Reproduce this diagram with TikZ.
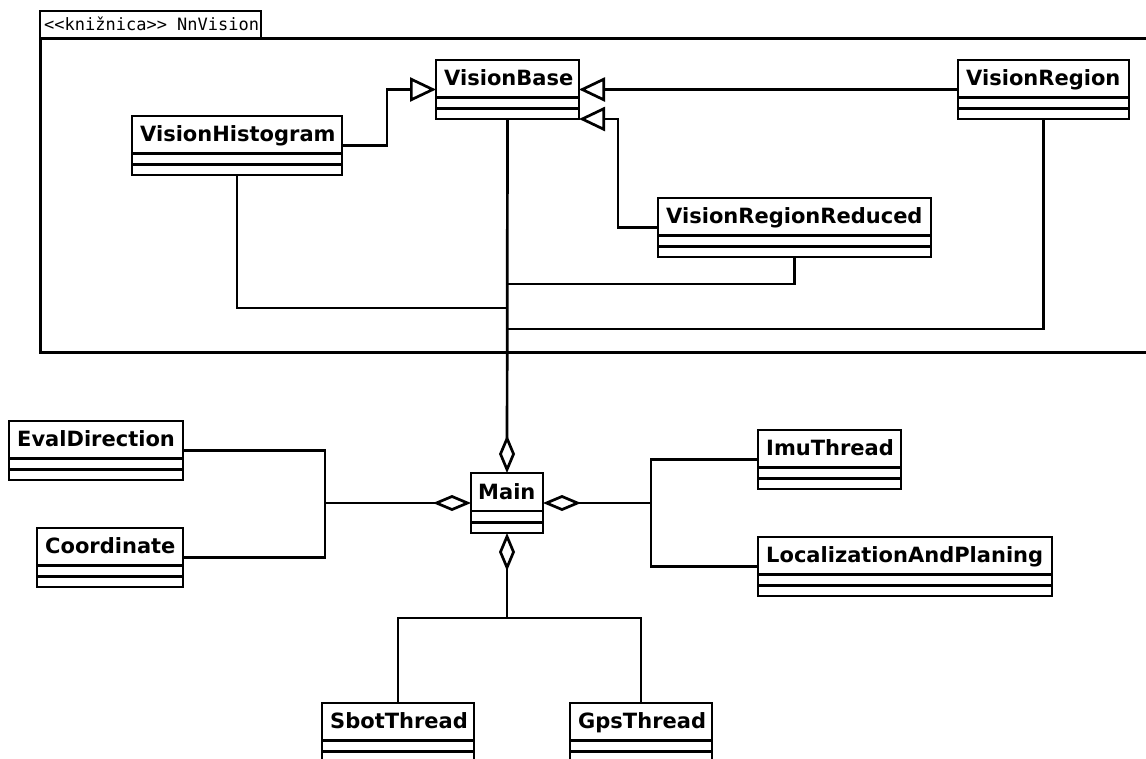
\documentclass[tikz,border=0pt]{standalone}
\usepackage{fontspec}
\newfontfamily\classfont{DejaVu Sans}
\setmonofont{DejaVu Sans Mono}
\usetikzlibrary{arrows.meta,calc}

\tikzset{
  classbox/.style={draw, line width=2.9pt, minimum height=59pt, inner sep=0pt, outer sep=0pt, fill=white},
  boxline/.style={line width=2.8pt},
  classname/.style={anchor=base west, inner sep=0pt, font=\classfont\bfseries\fontsize{21}{25}\selectfont},
  conn/.style={line width=2.7pt},
  gen/.style={conn, -{Triangle[open, length=26pt, width=24pt, line width=2.7pt]}},
  agg/.style={conn, -{Diamond[open, length=38pt, width=16pt, line width=2.7pt]}},
  framebox/.style={line width=3pt},
  tabtext/.style={anchor=base west, inner sep=0pt, font=\ttfamily\fontsize{17}{20}\selectfont},
}

% class symbol: name, left x, top y, width, title
\newcommand\umlclass[5]{%
  \node[classbox, minimum width=#4pt, anchor=north west] (#1) at (#2,#3) {};
  \draw[boxline] ($(#1.north west)+(0,37.5)$) -- ($(#1.north east)+(0,37.5)$)
                 ($(#1.north west)+(0,48.5)$) -- ($(#1.north east)+(0,48.5)$);
  \node[classname] (#1-title) at ($(#1.north west)+(8,25.5)$) {#5};
}

\begin{document}
\begin{tikzpicture}[x=1pt, y=-1pt]
  \useasboundingbox (0,0) rectangle (1146,758);
  \fill[white] (0,0) rectangle (1146,758);

  % package frame with its tab
  \draw[framebox] (1150,38) -- (40,38) -- (40,352) -- (1150,352);
  \node[draw, line width=2.6pt, minimum width=221pt, minimum height=27pt,
        inner sep=0pt, outer sep=0pt, anchor=north west] (pkgtab) at (40,11) {};
  \node[tabtext] (pkgname) at (44,30) {<<knižnica>> NnVision};

  % classes of the library
  \umlclass{vb}{436}{60}{143}{VisionBase}
  \umlclass{vh}{132}{116}{210}{VisionHistogram}
  \umlclass{vr}{958}{60}{171}{VisionRegion}
  \umlclass{vrr}{658}{198}{273}{VisionRegionReduced}

  % application classes
  \node[classbox, minimum width=72pt, minimum height=60pt, anchor=north west] (main) at (471,473) {};
  \draw[boxline] ($(main.north west)+(0,38)$) -- ($(main.north east)+(0,38)$)
                 ($(main.north west)+(0,49.5)$) -- ($(main.north east)+(0,49.5)$);
  \node[classname] (main-title) at ($(main.north west)+(7,26)$) {Main};

  \umlclass{eval}{9}{421}{174}{EvalDirection}
  \umlclass{coord}{37}{528}{146}{Coordinate}
  \umlclass{imu}{758}{430}{143}{ImuThread}
  \umlclass{lap}{758}{537}{294}{LocalizationAndPlaning}
  \umlclass{sbot}{322}{703}{152}{SbotThread}
  \umlclass{gps}{570}{703}{142}{GpsThread}

  % junction points
  \coordinate (jh) at (507.5,308);
  \coordinate (jrr) at (507.5,284);
  \coordinate (jr) at (507.5,329);
  \coordinate (jl) at (325,503);
  \coordinate (jright) at (651,503);
  \coordinate (jb) at (507,618);

  % generalisations
  \draw[gen] (vh.east) -- ++(45,0) |- (vb.west);
  \draw[gen] (vr.west) -- (vb.east);
  \draw[gen] (vrr.west) -- ++(-40,0) |- (vb.south east);

  % lines collected into the aggregation above Main
  \draw[conn] (vh.south) |- (jh);
  \draw[conn] (vrr.south) |- (jrr);
  \draw[conn] (vr.south) |- (jr);
  \draw[agg] (vb.south) -- (main.north);

  % left aggregation
  \draw[conn] (eval.east) -| (jl) |- (coord.east);
  \draw[agg] (jl) -- (main.west);

  % right aggregation
  \draw[conn] (imu.west) -| (jright) |- (lap.west);
  \draw[agg] (jright) -- (main.east);

  % bottom aggregation
  \draw[conn] (sbot.north) |- (jb) -| (gps.north);
  \draw[agg] (jb) -- (main.south);
\end{tikzpicture}
\end{document}
